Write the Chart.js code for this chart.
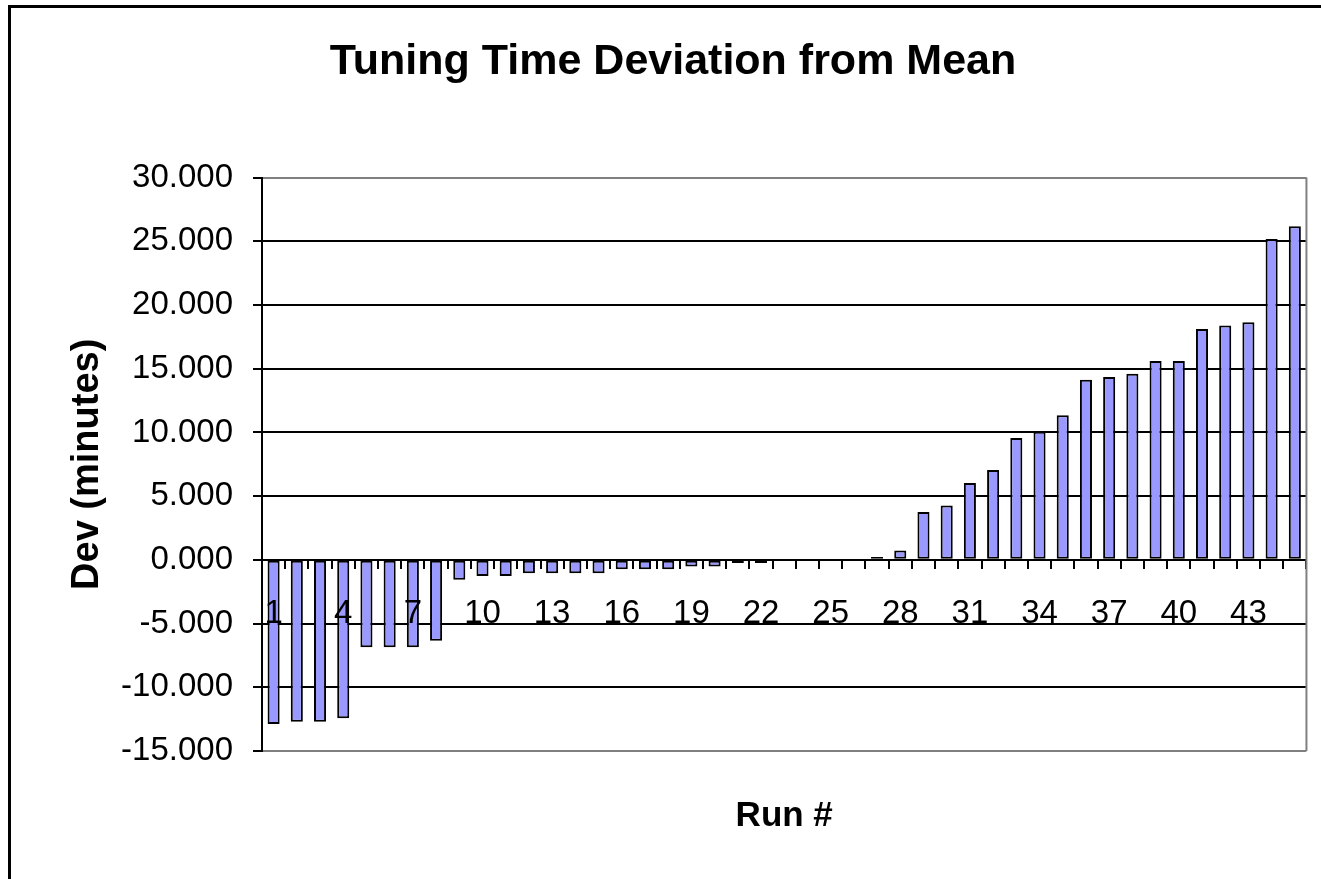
<!DOCTYPE html>
<html><head><meta charset="utf-8">
<script src="https://cdn.jsdelivr.net/npm/chart.js@4"></script>
<style>html,body{margin:0;padding:0;background:#fff;} canvas{display:block}</style>
</head><body>
<canvas id="c" width="1321" height="879"></canvas>
<script>
const categories = ['1','2','3','4','5','6','7','8','9','10','11','12','13','14','15','16','17','18','19','20','21','22','23','24','25','26','27','28','29','30','31','32','33','34','35','36','37','38','39','40','41','42','43','44','45'];
const deviations = [-12.88,-12.7,-12.7,-12.43,-6.86,-6.86,-6.86,-6.34,-1.57,-1.26,-1.26,-1.05,-1.05,-1.05,-1.05,-0.73,-0.73,-0.73,-0.53,-0.53,-0.25,-0.25,0,0,0,0,0.22,0.73,3.75,4.27,6.03,7.05,9.56,10.05,11.34,14.14,14.35,14.61,15.61,15.61,18.12,18.4,18.64,25.19,26.18];
const shownLabels = ['1','4','7','10','13','16','19','22','25','28','31','34','37','40','43'];
const yMin = -15, yMax = 30, yStep = 5;

const FONT = "'Liberation Sans', Arial, sans-serif";

const framePlugin = {
  id: 'frame',
  beforeDatasetsDraw(chart) {
    const {ctx, chartArea: a} = chart;
    ctx.save();
    ctx.strokeStyle = '#808080';
    ctx.lineWidth = 2;
    ctx.beginPath();
    ctx.moveTo(a.right, a.top);
    ctx.lineTo(a.right, a.bottom);
    ctx.stroke();
    ctx.restore();
  },
  afterDraw(chart) {
    const ctx = chart.ctx;
    ctx.save();
    ctx.fillStyle = '#000';
    ctx.fillRect(8, 5, 3, chart.height - 5);
    ctx.fillRect(8, 5, chart.width - 8, 3);
    ctx.restore();
  }
};

new Chart(document.getElementById('c'), {
  type: 'bar',
  data: {
    labels: categories,
    datasets: [{
      data: deviations,
      backgroundColor: '#9999FF',
      borderColor: '#000000',
      borderWidth: 2,
      borderSkipped: false,
      barPercentage: 0.52,
      categoryPercentage: 1
    }]
  },
  options: {
    responsive: false,
    animation: false,
    layout: {padding: {left: 37, right: 12, top: 0, bottom: 0}},
    plugins: {
      legend: {display: false},
      tooltip: {enabled: false},
      title: {
        display: true,
        text: 'Tuning Time Deviation from Mean',
        color: '#000',
        font: {family: FONT, size: 43, weight: 'bold'},
        padding: {top: 36, bottom: 90}
      }
    },
    scales: {
      x: {
        position: {y: 0},
        offset: true,
        grid: {offset: true, drawOnChartArea: false, drawTicks: true, tickLength: 8, color: '#000', lineWidth: 2},
        border: {display: true, color: '#000', width: 2},
        ticks: {
          z: 1,
          autoSkip: false, maxRotation: 0, minRotation: 0, padding: 26,
          color: '#000', font: {family: FONT, size: 33},
          callback: (v, i) => shownLabels.includes(categories[i]) ? categories[i] : ''
        }
      },
      x2: {
        type: 'category',
        labels: categories,
        position: 'bottom',
        offset: true,
        grid: {display: false, drawTicks: false},
        border: {display: false},
        ticks: {display: false},
        title: {display: true, text: 'Run #', color: '#000',
          font: {family: FONT, size: 35, weight: 'bold'}, padding: {top: 44, bottom: 42}}
      },
      y: {
        min: yMin, max: yMax,
        ticks: {stepSize: yStep, padding: 20, color: '#000', font: {family: FONT, size: 33},
          callback: v => Number(v).toFixed(3)},
        grid: {
          color: c => (c.tick && (c.tick.value === yMax || c.tick.value === yMin)) ? '#808080' : '#000',
          lineWidth: 2, tickLength: 9, tickColor: '#000'
        },
        border: {display: true, color: '#000', width: 2},
        title: {display: true, text: 'Dev (minutes)', color: '#000',
          font: {family: FONT, size: 38, weight: 'bold'}, padding: {top: 28, bottom: 0}},
        afterFit(s) { s.width = 225; }
      }
    }
  },
  plugins: [framePlugin]
});
</script>
</body></html>
